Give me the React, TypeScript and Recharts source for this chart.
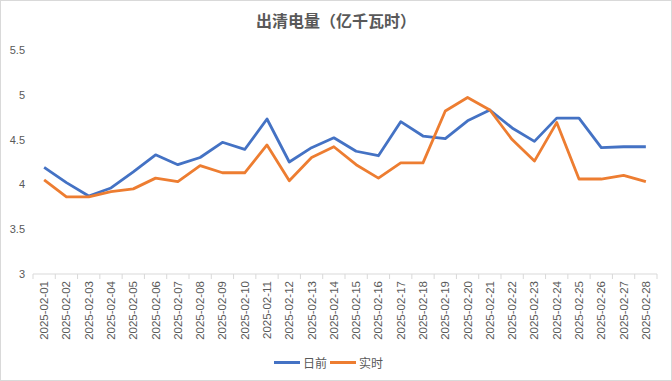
import React from 'react';
import { LineChart, Line, XAxis, YAxis, Legend } from 'recharts';

const dates = [
  '2025-02-01', '2025-02-02', '2025-02-03', '2025-02-04', '2025-02-05', '2025-02-06', '2025-02-07',
  '2025-02-08', '2025-02-09', '2025-02-10', '2025-02-11', '2025-02-12', '2025-02-13', '2025-02-14',
  '2025-02-15', '2025-02-16', '2025-02-17', '2025-02-18', '2025-02-19', '2025-02-20', '2025-02-21',
  '2025-02-22', '2025-02-23', '2025-02-24', '2025-02-25', '2025-02-26', '2025-02-27', '2025-02-28',
];

// 日前
const dayAhead = [
  4.19, 4.02, 3.87, 3.96, 4.14, 4.33, 4.22, 4.3, 4.47, 4.39, 4.73, 4.25, 4.41, 4.52,
  4.37, 4.32, 4.7, 4.54, 4.51, 4.71, 4.83, 4.63, 4.48, 4.74, 4.74, 4.41, 4.42, 4.42,
];

// 实时
const realTime = [
  4.05, 3.86, 3.86, 3.92, 3.95, 4.07, 4.03, 4.21, 4.13, 4.13, 4.44, 4.04, 4.3, 4.42,
  4.22, 4.07, 4.24, 4.24, 4.82, 4.97, 4.83, 4.5, 4.26, 4.69, 4.06, 4.06, 4.1, 4.03,
];

const yTicks = [3, 3.5, 4, 4.5, 5, 5.5];

const data = dates.map((d, i) => ({ date: d, dayAhead: dayAhead[i], realTime: realTime[i] }));

const W = 672;
const H = 381;
const LEFT = 33;
const RIGHT = 15;
const step = (W - LEFT - RIGHT) / dates.length;
const font = '"Liberation Sans", Arial, "Noto Sans CJK SC", sans-serif';

const XTick = (props: any) => {
  const { x, y, payload, index } = props;
  const axisY = y - 7;
  return (
    <g>
      <line x1={x - step / 2} x2={x - step / 2} y1={axisY} y2={axisY + 5} stroke="#d9d9d9" />
      {index === dates.length - 1 && (
        <line x1={x + step / 2} x2={x + step / 2} y1={axisY} y2={axisY + 5} stroke="#d9d9d9" />
      )}
      <text
        x={x}
        y={y}
        transform={`rotate(-90, ${x}, ${y})`}
        textAnchor="end"
        dy="0.35em"
        fill="#595959"
        fontSize={11.5}
        fontFamily={font}
      >
        {payload.value}
      </text>
    </g>
  );
};

const LegendContent = () => (
  <div style={{ display: 'flex', justifyContent: 'center', alignItems: 'center', fontFamily: font, fontSize: 12, color: '#595959' }}>
    <span style={{ display: 'inline-block', width: 26, height: 3, background: '#4472C4', marginRight: 3 }} />
    <span style={{ marginRight: 3 }}>日前</span>
    <span style={{ display: 'inline-block', width: 26, height: 3, background: '#ED7D31', marginRight: 3 }} />
    <span>实时</span>
  </div>
);

export default function App() {
  return (
    <div style={{ position: 'absolute', left: 0, top: 0, width: W, height: H, background: '#fff' }}>
      <div
        style={{
          position: 'absolute', left: 0, top: 8, width: W, textAlign: 'center',
          fontFamily: '"Noto Sans CJK SC", sans-serif', fontSize: 16, fontWeight: 'bold', color: '#595959',
        }}
      >
        出清电量（亿千瓦时）
      </div>
      <div style={{ position: 'absolute', left: 0, top: 0, width: W, height: H, border: '1px solid #d9d9d9', boxSizing: 'border-box', pointerEvents: 'none' }} />
      <LineChart width={W} height={H} data={data} margin={{ top: 50, right: RIGHT, bottom: 7, left: 0 }}>
        <XAxis
          dataKey="date"
          interval={0}
          height={80}
          padding={{ left: step / 2, right: step / 2 }}
          tickLine={false}
          tickSize={5}
          tickMargin={2}
          axisLine={{ stroke: '#d9d9d9' }}
          tick={<XTick />}
        />
        <YAxis
          domain={[3, 5.5]}
          ticks={yTicks}
          width={LEFT}
          axisLine={false}
          tickLine={false}
          tickSize={0}
          tickMargin={8}
          tick={{ fill: '#595959', fontSize: 11, fontFamily: font }}
        />
        <Legend verticalAlign="bottom" height={20} content={<LegendContent />} />
        <Line dataKey="dayAhead" name="日前" stroke="#4472C4" strokeWidth={2.8} dot={false} isAnimationActive={false} strokeLinejoin="round" />
        <Line dataKey="realTime" name="实时" stroke="#ED7D31" strokeWidth={2.8} dot={false} isAnimationActive={false} strokeLinejoin="round" />
      </LineChart>
    </div>
  );
}
